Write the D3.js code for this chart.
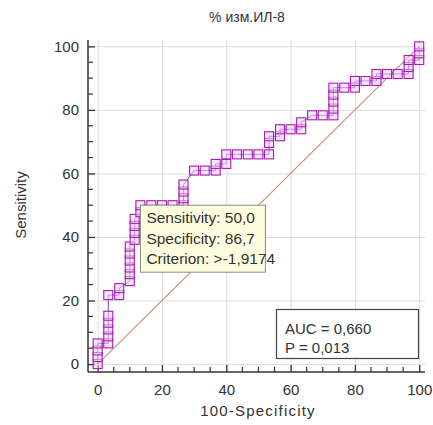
<!DOCTYPE html>
<html>
<head>
<meta charset="utf-8">
<script src="https://cdn.jsdelivr.net/npm/d3@7"></script>
<style>
  body { margin: 0; background: #fff; }
  svg { display: block; font-family: "Liberation Sans", Arial, sans-serif; }
</style>
</head>
<body>
<svg id="chart" width="433" height="425"></svg>
<script>
"use strict";

const TITLE = "% изм.ИЛ-8";
const X_LABEL = "100-Specificity";
const Y_LABEL = "Sensitivity";

// ROC points: 100-Specificity, Sensitivity
const FPR = [0, 0, 0, 0, 3.3, 3.3, 3.3, 3.3, 3.3, 3.3, 6.7, 6.7, 10, 10, 10, 10, 10, 10,
  11.5, 11.5, 11.5, 11.5, 13.3, 13.3, 16.7, 20, 23.3, 26.7, 26.7, 26.7, 26.7, 30, 33.3, 36.7,
  36.7, 40, 40, 43.3, 46.7, 50, 53.3, 53.3, 53.3, 56.7, 56.7, 60, 63.3, 63.3, 66.7, 70, 73.3,
  73.3, 73.3, 73.3, 73.3, 76.7, 80, 80, 83.3, 86.7, 86.7, 90, 93.3, 96.7, 96.7, 96.7, 100, 100, 100];
const TPR = [0, 2.2, 4.3, 6.5, 6.5, 8.7, 10.9, 13.0, 15.2, 21.7, 21.7, 23.9, 26.1, 28.3, 30.4, 32.6, 34.8, 37.0,
  39.1, 41.3, 43.5, 45.7, 47.8, 50.0, 50.0, 50.0, 50.0, 50.0, 52.2, 54.3, 56.5, 60.9, 60.9, 60.9,
  63.0, 63.0, 66.0, 66.0, 66.0, 66.0, 66.0, 69.6, 71.7, 71.7, 73.9, 73.9, 73.9, 76.1, 78.3, 78.3, 78.3,
  80.4, 82.6, 84.8, 87.0, 87.0, 87.0, 89.1, 89.1, 89.1, 91.3, 91.3, 91.3, 91.3, 93.5, 95.7, 95.7, 97.8, 100];

const X_TICKS = [0, 20, 40, 60, 80, 100];
const Y_TICKS = [0, 20, 40, 60, 80, 100];
const MINOR_TICKS = [5, 10, 15, 25, 30, 35, 45, 50, 55, 65, 70, 75, 85, 90, 95];

const CRITERION = { fpr: 13.3, tpr: 50.0 };
const CRITERION_LINES = ["Sensitivity: 50,0", "Specificity: 86,7", "Criterion: >-1,9174"];
const STAT_LINES = ["AUC = 0,660", "P = 0,013"];

const PLOT = { LEFT: 88, RIGHT: 425, TOP: 40, BOTTOM: 372 };

const svg = d3.select("#chart");

const x = d3.scaleLinear().domain([-3, 101.8]).range([PLOT.LEFT, PLOT.RIGHT]);
const y = d3.scaleLinear().domain([-2.5, 102]).range([PLOT.BOTTOM, PLOT.TOP]);

// grid
const grid = svg.append("g").attr("stroke", "#dcdcdc").attr("stroke-width", 1);
grid.selectAll("line.gx").data(X_TICKS).join("line").attr("class", "gx")
  .attr("x1", d => x(d) + 0.5).attr("x2", d => x(d) + 0.5)
  .attr("y1", PLOT.TOP).attr("y2", PLOT.BOTTOM);
grid.selectAll("line.gy").data(Y_TICKS).join("line").attr("class", "gy")
  .attr("y1", d => y(d) + 0.5).attr("y2", d => y(d) + 0.5)
  .attr("x1", PLOT.LEFT).attr("x2", PLOT.RIGHT);

// axes
const xAxis = d3.axisBottom(x).tickValues(X_TICKS).tickSize(-7).tickPadding(12);
const yAxis = d3.axisLeft(y).tickValues(Y_TICKS).tickSize(-7).tickPadding(9);

const gx = svg.append("g").attr("transform", `translate(0,${PLOT.BOTTOM})`).call(xAxis);
const gy = svg.append("g").attr("transform", `translate(${PLOT.LEFT},0)`).call(yAxis);

[gx, gy].forEach(g => {
  g.select(".domain").remove();
  g.selectAll(".tick line").attr("stroke", "#333").attr("stroke-width", 1.3);
  g.selectAll(".tick text").attr("font-size", 15).attr("fill", "#333")
    .attr("font-family", "'Liberation Sans', Arial, sans-serif");
});

gx.selectAll(".minor").data(MINOR_TICKS).join("line").attr("class", "minor")
  .attr("x1", d => x(d)).attr("x2", d => x(d)).attr("y1", 0).attr("y2", -5)
  .attr("stroke", "#333").attr("stroke-width", 1.2);
gy.selectAll(".minor").data(MINOR_TICKS).join("line").attr("class", "minor")
  .attr("y1", d => y(d)).attr("y2", d => y(d)).attr("x1", 0).attr("x2", 5)
  .attr("stroke", "#333").attr("stroke-width", 1.2);

svg.append("line").attr("x1", PLOT.LEFT).attr("x2", PLOT.RIGHT)
  .attr("y1", PLOT.BOTTOM).attr("y2", PLOT.BOTTOM).attr("stroke", "#333").attr("stroke-width", 1.5);
svg.append("line").attr("x1", PLOT.LEFT).attr("x2", PLOT.LEFT)
  .attr("y1", PLOT.TOP).attr("y2", PLOT.BOTTOM).attr("stroke", "#333").attr("stroke-width", 1.5);

// diagonal reference
svg.append("line")
  .attr("x1", x(0)).attr("y1", y(0)).attr("x2", x(100)).attr("y2", y(100))
  .attr("stroke", "#c48a88").attr("stroke-width", 1.1);

// ROC curve
const pts = FPR.map((f, i) => [f, TPR[i]]);
svg.append("path").datum(pts)
  .attr("fill", "none").attr("stroke", "#5a4ae0").attr("stroke-width", 1)
  .attr("d", d3.line().x(d => x(d[0])).y(d => y(d[1])));

const SQ = 9;
svg.append("g").selectAll("rect").data(pts).join("rect")
  .attr("x", d => x(d[0]) - SQ / 2).attr("y", d => y(d[1]) - SQ / 2)
  .attr("width", SQ).attr("height", SQ)
  .attr("fill", "#f6d2f6").attr("fill-opacity", 0.55)
  .attr("stroke", "#a61cb4").attr("stroke-width", 1.1);

// criterion box
const bx = x(CRITERION.fpr), by = y(CRITERION.tpr);
svg.append("rect").attr("x", bx).attr("y", by).attr("width", 125).attr("height", 67)
  .attr("fill", "#fdfde0").attr("stroke", "#888").attr("stroke-width", 1);
svg.append("g").selectAll("text").data(CRITERION_LINES).join("text")
  .attr("x", bx + 6).attr("y", (d, i) => by + 18 + i * 20.5)
  .attr("font-size", 15.5).attr("fill", "#333").text(d => d);

// AUC box
svg.append("rect").attr("x", 276.5).attr("y", 309.5).attr("width", 142).attr("height", 49)
  .attr("fill", "#fff").attr("stroke", "#444").attr("stroke-width", 1.2);
svg.append("g").selectAll("text").data(STAT_LINES).join("text")
  .attr("x", 285).attr("y", (d, i) => 334 + i * 19)
  .attr("font-size", 15).attr("fill", "#333").text(d => d);

// titles
svg.append("text").attr("x", 247).attr("y", 22).attr("text-anchor", "middle")
  .attr("font-size", 14).attr("fill", "#333").text(TITLE);
svg.append("text").attr("x", 258).attr("y", 416).attr("text-anchor", "middle")
  .attr("font-size", 15).attr("letter-spacing", 1.2).attr("fill", "#333").text(X_LABEL);
svg.append("text").attr("transform", "translate(26,205) rotate(-90)").attr("text-anchor", "middle")
  .attr("font-size", 15).attr("fill", "#333").text(Y_LABEL);
</script>
</body>
</html>
